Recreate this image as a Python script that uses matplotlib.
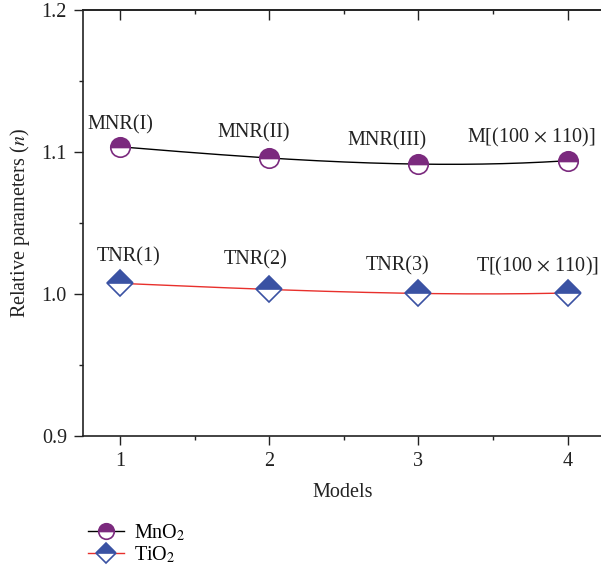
import numpy as np
import matplotlib
matplotlib.use("Agg")
import matplotlib.pyplot as plt
from matplotlib.ticker import MultipleLocator, FormatStrFormatter

plt.rcParams['font.family'] = ['Liberation Serif', 'DejaVu Serif']
plt.rcParams['mathtext.fontset'] = 'stix'

models = [1, 2, 3, 4]
mno2 = [1.1035, 1.0956, 1.0913, 1.0937]
tio2 = [1.0073, 1.0030, 1.0002, 1.0005]
mno2_labels = ['MNR(I)', 'MNR(II)', 'MNR(III)', r'M[(100 $\times$ 110)]']
tio2_labels = ['TNR(1)', 'TNR(2)', 'TNR(3)', r'T[(100 $\times$ 110)]']

# label offsets from marker, in points
mno2_off = [(0, 16), (-11, 18), (-23, 17), (-26, 17)]
tio2_off = [(6, 19), (-10, 21), (-15, 20), (-22, 19)]

purple = '#7b2a7e'
blue = '#3a52a3'
red = '#e8302c'
ink = '#222222'
fs = 14.5

fig = plt.figure(figsize=(6.01, 5.77), dpi=100)
ax = fig.add_axes([0.138, 0.245, 0.865, 0.738])

# smooth curve through the points (cubic through 4 points)
xs = np.linspace(1, 4, 200)
ax.plot(xs, np.polyval(np.polyfit(models, mno2, 3), xs), color='black', lw=1.0, zorder=2)
ax.plot(xs, np.polyval(np.polyfit(models, tio2, 3), xs), color=red, lw=1.0, zorder=2)

ax.plot(models, mno2, ls='none', marker='o', ms=14, fillstyle='top',
        markerfacecolor=purple, markerfacecoloralt='white', markeredgecolor=purple,
        markeredgewidth=1.2, zorder=3)
ax.plot(models, tio2, ls='none', marker='D', ms=13, fillstyle='top',
        markerfacecolor=blue, markerfacecoloralt='white', markeredgecolor=blue,
        markeredgewidth=1.2, zorder=3)

# legend handles
h1, = ax.plot([], [], color='black', lw=1.0, marker='o', ms=14, fillstyle='top',
              markerfacecolor=purple, markerfacecoloralt='white', markeredgecolor=purple,
              markeredgewidth=1.2)
h2, = ax.plot([], [], color=red, lw=1.0, marker='D', ms=13, fillstyle='top',
              markerfacecolor=blue, markerfacecoloralt='white', markeredgecolor=blue,
              markeredgewidth=1.2)

for x, y, t, o in zip(models, mno2, mno2_labels, mno2_off):
    ax.annotate(t, (x, y), xytext=o, textcoords='offset points', ha='center', va='center',
                fontsize=fs, color=ink)
for x, y, t, o in zip(models, tio2, tio2_labels, tio2_off):
    ax.annotate(t, (x, y), xytext=o, textcoords='offset points', ha='center', va='center',
                fontsize=fs, color=ink)

ax.set_xlim(0.752, 4.235)
ax.set_ylim(0.9, 1.2)
ax.xaxis.set_major_locator(MultipleLocator(1))
ax.xaxis.set_minor_locator(MultipleLocator(0.5))
ax.yaxis.set_major_locator(MultipleLocator(0.1))
ax.yaxis.set_minor_locator(MultipleLocator(0.05))
ax.yaxis.set_major_formatter(FormatStrFormatter('%.1f'))

ax.spines['right'].set_visible(False)
for s in ['left', 'bottom', 'top']:
    ax.spines[s].set_linewidth(1.2)
    ax.spines[s].set_color(ink)

ax.tick_params(axis='both', which='major', labelsize=fs, colors=ink, width=1.0,
               direction='out', length=6.5, pad=5)
ax.tick_params(axis='both', which='minor', direction='out', length=3, width=1.0, colors=ink)

# top axis: ticks pointing inward, no labels
top = ax.secondary_xaxis('top')
top.xaxis.set_major_locator(MultipleLocator(1))
top.xaxis.set_minor_locator(MultipleLocator(0.5))
top.tick_params(which='major', direction='in', length=7, width=1.0, colors=ink, labeltop=False)
top.tick_params(which='minor', direction='in', length=3, width=1.0, colors=ink)
top.spines['top'].set_linewidth(1.2)
top.spines['top'].set_color(ink)

ax.set_xlabel('Models', fontsize=fs, color=ink, labelpad=9)
ax.set_ylabel('Relative parameters ($n$)', fontsize=fs, color=ink, labelpad=7)

fig.legend([h1, h2], ['MnO$_2$', 'TiO$_2$'], loc='upper left', bbox_to_anchor=(0.133, 0.108),
           frameon=False, fontsize=fs, handlelength=1.8, handletextpad=0.5, markerscale=0.8,
           labelspacing=0.05, borderaxespad=0)

fig.savefig('out.png', dpi=100)
